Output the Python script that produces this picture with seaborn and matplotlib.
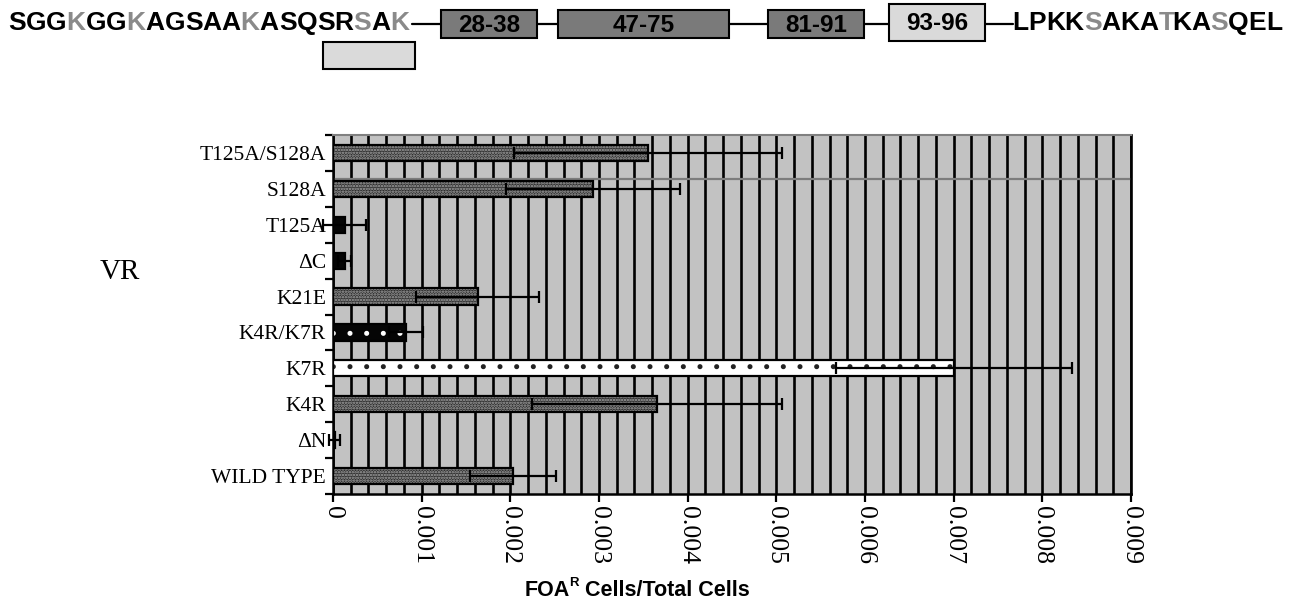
import numpy as np
import pandas as pd
import matplotlib
matplotlib.use("Agg")
import matplotlib.pyplot as plt
import seaborn as sns
from matplotlib.patches import Rectangle
from matplotlib.ticker import MultipleLocator

# ---- data -------------------------------------------------------------
strains = ["T125A/S128A", "S128A", "T125A", "ΔC", "K21E",
           "K4R/K7R", "K7R", "K4R", "ΔN", "WILD TYPE"]
foa_freq = [0.00355, 0.00293, 0.00013, 0.00013, 0.00163,
            0.00082, 0.00700, 0.00365, 0.00002, 0.00203]
foa_sd = [0.00151, 0.00098, 0.00024, 0.00007, 0.00069,
          0.00019, 0.00133, 0.00141, 0.00006, 0.00049]
x_ticks = [0, 0.001, 0.002, 0.003, 0.004, 0.005, 0.006, 0.007, 0.008, 0.009]
x_tick_labels = ["0", "0.001", "0.002", "0.003", "0.004",
                 "0.005", "0.006", "0.007", "0.008", "0.009"]

# domain map along the top
n_term_seq = "SGGKGGKAGSAAKASQSRSAK"
n_term_grey = [3, 6, 12, 18, 20]
c_term_seq = "LPKKSAKATKASQEL"
c_term_grey = [4, 8, 11]
domains = ["28-38", "47-75", "81-91", "93-96"]

# ---- fill style per strain ------------------------------------------
bar_styles = {
    "texture": dict(face="#2e2e2e", hatch="......", hatch_col="#a8a8a8"),
    "solid": dict(face="#050505", hatch=None, hatch_col="#050505"),
    "dotdark": dict(face="#050505", hatch=".", hatch_col="#ffffff"),
    "dotlight": dict(face="#ffffff", hatch=".", hatch_col="#222222"),
}
strain_fill = ["texture", "texture", "solid", "solid", "texture",
               "dotdark", "dotlight", "texture", "solid", "texture"]

sns.set_style("white")
plt.rcParams["font.family"] = ["Liberation Serif", "DejaVu Serif"]
plt.rcParams["hatch.linewidth"] = 1.2
plt.rcParams["text.color"] = "black"
plt.rcParams["xtick.labelcolor"] = "black"
plt.rcParams["ytick.labelcolor"] = "black"

W, H = 1294, 601
fig = plt.figure(figsize=(W / 100, H / 100), dpi=100)

# ---- bar chart -------------------------------------------------------
ax = fig.add_axes([333 / W, 1 - 494 / H, (1131 - 333) / W, (494 - 135) / H])
df = pd.DataFrame({"strain": strains, "freq": foa_freq})
sns.barplot(data=df, x="freq", y="strain", order=strains, orient="h",
            width=0.45, color="#2e2e2e", ax=ax, zorder=3)

for patch, kind in zip(ax.patches, strain_fill):
    st = bar_styles[kind]
    patch.set_facecolor(st["face"])
    patch.set_edgecolor(st["hatch_col"])
    patch.set_linewidth(0)
    if st["hatch"]:
        patch.set_hatch(st["hatch"])
    outline = Rectangle(patch.get_xy(), patch.get_width(), patch.get_height(),
                        fill=False, edgecolor="black", linewidth=1.6, zorder=3.5)
    ax.add_patch(outline)

ax.errorbar(foa_freq, np.arange(len(strains)), xerr=foa_sd, fmt="none",
            ecolor="black", elinewidth=1.6, capsize=4, capthick=1.6,
            zorder=4, clip_on=False)

ax.set_facecolor("#c2c2c2")
ax.set_xlim(0, 0.009)
ax.set_ylim(len(strains) - 0.5, -0.5)
ax.xaxis.set_minor_locator(MultipleLocator(0.0002))
ax.grid(True, axis="x", which="both", color="black", linewidth=1.9)
ax.grid(False, axis="y")
ax.set_axisbelow(True)
ax.axhline(0.72, color="#7c7c7c", linewidth=1.6, zorder=2)

ax.set_xticks(x_ticks, labels=x_tick_labels)
for lab in ax.get_xticklabels():
    lab.set_rotation(-90)
    lab.set_va("top")
    lab.set_ha("center")
ax.tick_params(axis="x", which="major", length=6, width=1.6, color="black",
               labelcolor="black", labelsize=18.5, pad=3, bottom=True,
               direction="out")
ax.tick_params(axis="x", which="minor", length=0)

ax.set_yticks(np.arange(-0.5, len(strains), 1.0))
ax.set_yticklabels([])
ax.set_yticks(np.arange(len(strains)), labels=strains, minor=True)
ax.tick_params(axis="y", which="major", length=6, width=1.6, color="black",
               left=True, direction="out")
ax.tick_params(axis="y", which="minor", length=0, labelsize=15.5, pad=5,
               labelcolor="black")
ax.set_xlabel("")
ax.set_ylabel("")

for side in ["left", "bottom"]:
    ax.spines[side].set_color("black")
    ax.spines[side].set_linewidth(1.8)
ax.spines["top"].set_color("#808080")
ax.spines["top"].set_linewidth(1.5)
ax.spines["right"].set_color("black")
ax.spines["right"].set_linewidth(1.9)

# ---- overlay for annotations in pixel space --------------------------
top = fig.add_axes([0, 0, 1, 1], zorder=5)
top.set_xlim(0, W)
top.set_ylim(H, 0)
top.axis("off")
top.patch.set_alpha(0)

renderer = fig.canvas.get_renderer()
sans_bold = dict(family=["Liberation Sans", "DejaVu Sans"], fontweight="bold")


def text_width(s, **kw):
    t = top.text(0, 0, s, **kw)
    w = t.get_window_extent(renderer).width
    t.remove()
    return w


def draw_sequence(x, y, seq, grey, size):
    for i, ch in enumerate(seq):
        off = text_width(seq[:i], fontsize=size, **sans_bold) if i else 0
        col = "#8a8a8a" if i in grey else "black"
        top.text(x + off, y, ch, fontsize=size, color=col, va="center",
                 ha="left", **sans_bold)


draw_sequence(8, 23, n_term_seq, n_term_grey, 19)
draw_sequence(1012, 23, c_term_seq, c_term_grey, 19)

# connector line and domain boxes
top.plot([412, 1013], [24, 24], color="black", linewidth=1.6, zorder=1)
box_spans = [(441, 537, 10, 38, "#7a7a7a"), (558, 729, 10, 38, "#7a7a7a"),
             (768, 864, 10, 38, "#7a7a7a"), (889, 985, 4, 41, "#dadada")]
for (x0, x1, y0, y1, fc), lab in zip(box_spans, domains):
    top.add_patch(Rectangle((x0, y0), x1 - x0, y1 - y0, facecolor=fc,
                            edgecolor="black", linewidth=1.5, zorder=2))
    top.text((x0 + x1) / 2, (y0 + y1) / 2 + 1, lab, fontsize=17.5,
             color="black", ha="center", va="center", zorder=3, **sans_bold)
top.add_patch(Rectangle((323, 42), 92, 27, facecolor="#dadada",
                        edgecolor="black", linewidth=1.5, zorder=2))

# side label
top.text(120, 272, "VR", fontsize=21, ha="center", va="center", color="black",
         family=["Liberation Serif", "DejaVu Serif"])

# axis title with superscript
t1, t2, t3 = "FOA", "R", " Cells/Total Cells"
s_main, s_sup = 15.5, 9.5
w1 = text_width(t1, fontsize=s_main, **sans_bold)
w2 = text_width(t2, fontsize=s_sup, **sans_bold)
w3 = text_width(t3, fontsize=s_main, **sans_bold)
x_start = 637 - (w1 + w2 + w3) / 2
top.text(x_start, 590, t1, fontsize=s_main, va="center", ha="left",
         color="black", **sans_bold)
top.text(x_start + w1, 583, t2, fontsize=s_sup, va="center", ha="left",
         color="black", **sans_bold)
top.text(x_start + w1 + w2, 590, t3, fontsize=s_main, va="center", ha="left",
         color="black", **sans_bold)

fig.savefig("out.png", dpi=100)
